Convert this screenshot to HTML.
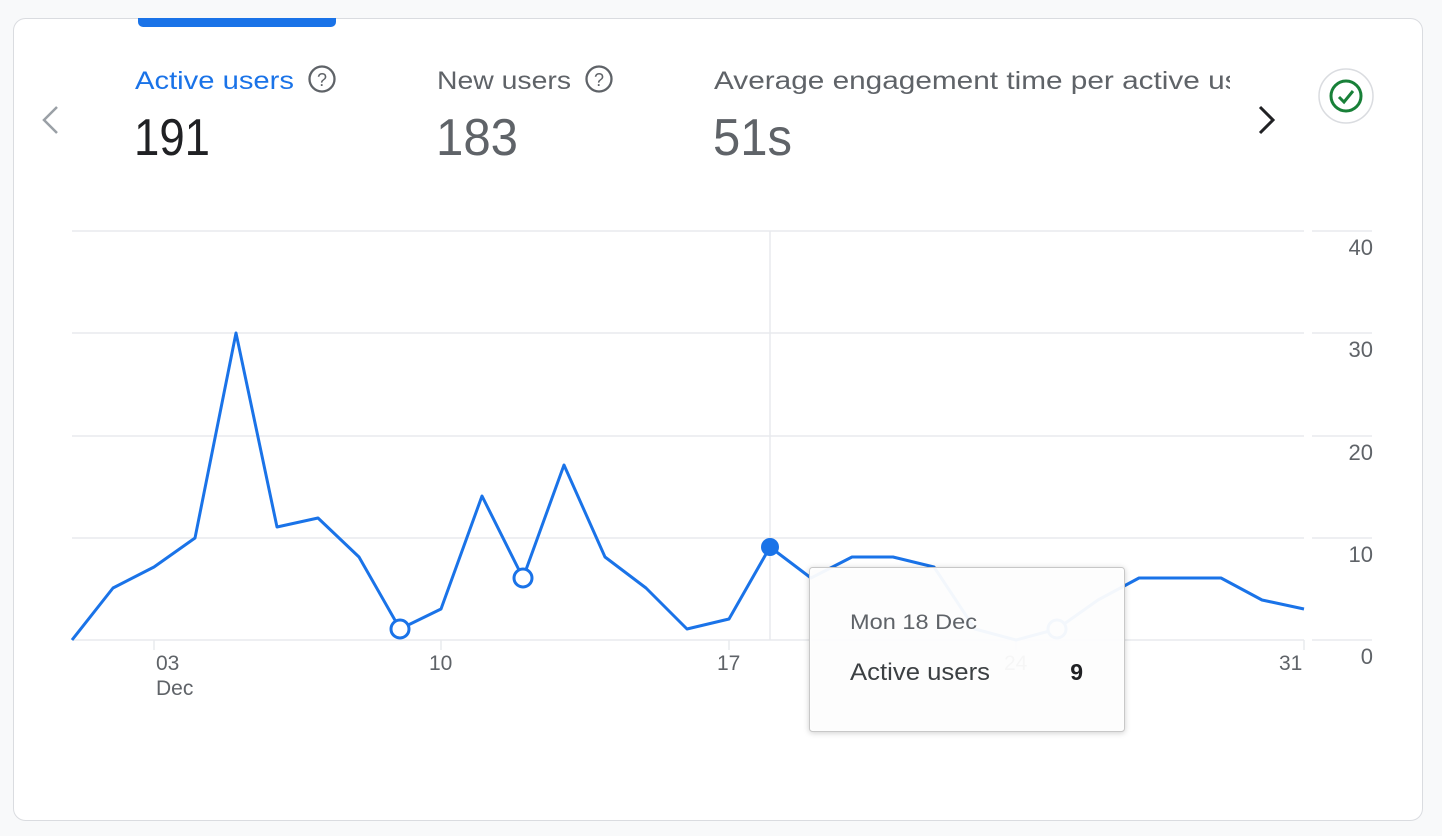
<!DOCTYPE html>
<html><head><style>
html,body{margin:0;padding:0;background:#f8f9fa;width:1442px;height:836px;overflow:hidden}
svg{display:block;font-family:"Liberation Sans",sans-serif}
</style></head><body>
<svg width="1442" height="836" viewBox="0 0 1442 836">
<rect x="13.5" y="18.5" width="1409" height="802" rx="12" fill="#fff" stroke="#dadce0"/>
<path d="M138 18 H336 V22 a5 5 0 0 1 -5 5 H143 a5 5 0 0 1 -5 -5 Z" fill="#1a73e8"/>
<polyline points="57,107 44,120 57,133" fill="none" stroke="#9aa0a6" stroke-width="2.5"/>
<text x="135" y="89" font-size="25" fill="#1a73e8" textLength="159" lengthAdjust="spacingAndGlyphs">Active users</text>
<circle cx="322" cy="79" r="12.5" fill="none" stroke="#5f6368" stroke-width="2.3"/>
<text x="322" y="86" font-size="18" fill="#5f6368" text-anchor="middle">?</text>
<text x="134" y="155" font-size="52" fill="#202124" textLength="76" lengthAdjust="spacingAndGlyphs">191</text>
<text x="437" y="89" font-size="25" fill="#5f6368" textLength="134" lengthAdjust="spacingAndGlyphs">New users</text>
<circle cx="599" cy="79" r="12.5" fill="none" stroke="#5f6368" stroke-width="2.3"/>
<text x="599" y="86" font-size="18" fill="#5f6368" text-anchor="middle">?</text>
<text x="436" y="155" font-size="52" fill="#5f6368" textLength="82" lengthAdjust="spacingAndGlyphs">183</text>
<svg x="0" y="0" width="1230" height="200"><text x="714" y="89" font-size="25" fill="#5f6368" textLength="552" lengthAdjust="spacingAndGlyphs">Average engagement time per active user</text></svg>
<text x="713" y="155" font-size="52" fill="#5f6368" textLength="79" lengthAdjust="spacingAndGlyphs">51s</text>
<polyline points="1260,107 1273,120 1260,133" fill="none" stroke="#202124" stroke-width="3"/>
<circle cx="1346" cy="96" r="27" fill="#fff" stroke="#dadce0" stroke-width="1.5"/>
<circle cx="1346" cy="96" r="15" fill="none" stroke="#188038" stroke-width="3"/>
<polyline points="1339,97 1344,102 1353,91" fill="none" stroke="#188038" stroke-width="3"/>
<g stroke="#e8eaed" stroke-width="1.5">
<line x1="72" y1="231" x2="1304" y2="231"/><line x1="1312" y1="231" x2="1372" y2="231"/>
<line x1="72" y1="333" x2="1304" y2="333"/><line x1="1312" y1="333" x2="1372" y2="333"/>
<line x1="72" y1="436" x2="1304" y2="436"/><line x1="1312" y1="436" x2="1372" y2="436"/>
<line x1="72" y1="538" x2="1304" y2="538"/><line x1="1312" y1="538" x2="1372" y2="538"/>
<line x1="72" y1="640" x2="1304" y2="640"/><line x1="1312" y1="640" x2="1372" y2="640"/>
<line x1="770" y1="231" x2="770" y2="640"/>
<line x1="154" y1="640" x2="154" y2="650"/><line x1="441" y1="640" x2="441" y2="650"/>
<line x1="729" y1="640" x2="729" y2="650"/><line x1="1016" y1="640" x2="1016" y2="650"/><line x1="1304" y1="640" x2="1304" y2="650"/>
</g>
<g font-size="22" fill="#5f6368" text-anchor="end">
<text x="1373" y="255">40</text><text x="1373" y="357">30</text><text x="1373" y="460">20</text><text x="1373" y="562">10</text><text x="1373" y="664">0</text>
</g>
<g font-size="21" fill="#5f6368">
<text x="156" y="670">03</text><text x="156" y="695">Dec</text>
<text x="429" y="670">10</text><text x="717" y="670">17</text><text x="1004" y="670">24</text><text x="1279" y="670">31</text>
</g>
<polyline fill="none" stroke="#1a73e8" stroke-width="3" stroke-linejoin="round" points="72,640 113,588 154,567 195,538 236,333 277,527 318,518 359,557 400,629 441,609 482,496 523,578 564,465 605,557 646,588 687,629 729,619 770,547 811,578 852,557 893,557 934,567 975,629 1016,640 1057,629 1098,600 1139,578 1180,578 1221,578 1262,600 1304,609"/>
<g fill="#fff" stroke="#1a73e8" stroke-width="3">
<circle cx="400" cy="629" r="9"/><circle cx="523" cy="578" r="9"/><circle cx="1057" cy="629" r="9"/>
</g>
<circle cx="770" cy="547" r="9" fill="#1a73e8"/>
<rect x="809.5" y="567.5" width="315" height="164" rx="3" fill="#fff" fill-opacity="0.95" stroke="#c8c8c8" style="filter:drop-shadow(0 1px 3px rgba(0,0,0,.2))"/>
<text x="850" y="629" font-size="21" fill="#5f6368" textLength="127" lengthAdjust="spacingAndGlyphs">Mon 18 Dec</text>
<text x="850" y="680" font-size="24" fill="#3c4043" textLength="140" lengthAdjust="spacingAndGlyphs">Active users</text>
<text x="1083" y="680" font-size="23" fill="#202124" font-weight="bold" text-anchor="end">9</text>
</svg>
</body></html>
